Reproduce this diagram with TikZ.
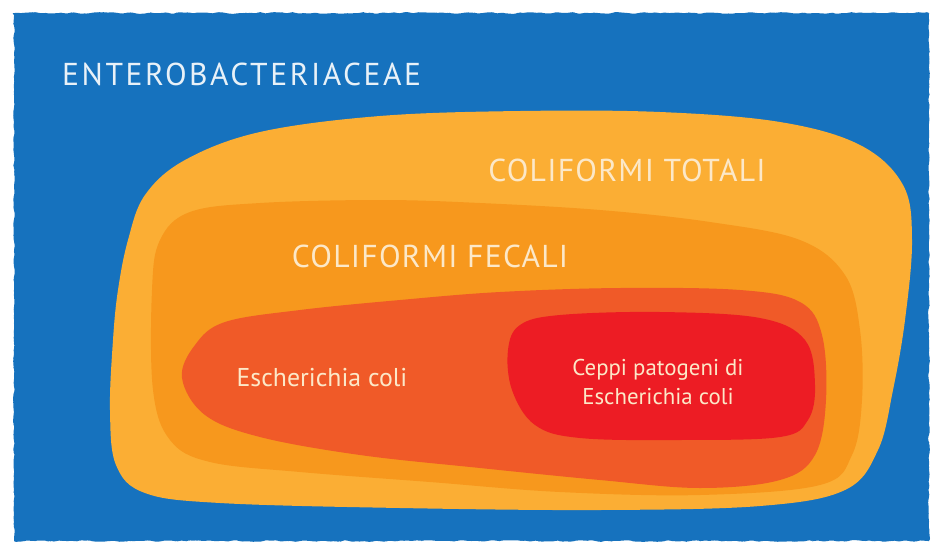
\documentclass[tikz,border=0pt]{standalone}
\usepackage{fontspec}
\setmainfont{PT Sans}
\usepackage{xcolor}
\usepackage{tikz}
\usetikzlibrary{decorations.pathmorphing}
\definecolor{cEntero}{HTML}{1672BE}
\definecolor{cTot}{HTML}{FBAE34}
\definecolor{cFec}{HTML}{F7981D}
\definecolor{cEcoli}{HTML}{F05A28}
\definecolor{cPat}{HTML}{ED1C24}
\definecolor{cTxt}{HTML}{FCE8C8}
\definecolor{cTxtB}{HTML}{E8F1F8}
\tikzset{
  grpblob/.style={line width=0pt,draw=none},
  grplab/.style={font=\fontsize{27}{30}\selectfont\addfontfeatures{LetterSpace=4},
      text=cTxt,inner sep=0pt},
  sublab/.style={font=\fontsize{22}{26}\selectfont,text=cTxt,inner sep=0pt,align=center},
}
\begin{document}
\begin{tikzpicture}[x=0.03cm,y=-0.03cm]
  \useasboundingbox (0,0) rectangle (947,554);
  \fill[white] (0,0) rectangle (947,554);

  % outer box
  \fill[cEntero,decorate,decoration={random steps,segment length=3pt,amplitude=0.8pt},
    rounded corners=2pt] (14,13) rectangle (929,541);

  % nested groups
  \fill[cTot,grpblob] plot[smooth cycle,tension=0.6] coordinates {
    (128,240) (145,195) (185,160) (260,132) (380,116) (520,111) (660,112)
    (780,122) (860,145) (903,185) (912,240) (905,320) (893,390) (878,450)
    (845,490) (760,506) (600,510) (400,508) (220,503) (145,493) (116,465)
    (110,410) (113,340) (118,290)};
  \fill[cFec,grpblob] plot[smooth cycle,tension=0.6] coordinates {
    (152,290) (160,240) (190,212) (260,203) (380,200) (480,203) (600,210)
    (710,222) (800,240) (845,275) (860,330) (862,400) (852,455) (820,485)
    (700,495) (560,492) (430,482) (300,472) (210,462) (170,440) (153,390)};
  \fill[cEcoli,grpblob] plot[smooth cycle,tension=0.6] coordinates {
    (182,378) (195,345) (225,322) (300,310) (400,300) (500,292) (620,288)
    (740,290) (800,302) (822,335) (826,400) (815,455) (780,480) (700,488)
    (600,480) (480,468) (360,455) (260,437) (205,415)};
  \fill[cPat,grpblob] plot[smooth cycle,tension=0.6] coordinates {
    (508,350) (520,325) (560,315) (660,312) (760,318) (805,340) (815,385)
    (808,420) (780,437) (680,440) (580,438) (535,425) (512,390)};

  % labels
  \node[grplab,text=cTxtB,anchor=west,font=\fontsize{27}{30}\selectfont\addfontfeatures{LetterSpace=8}]
    (entero) at (62,74) {ENTEROBACTERIACEAE};
  \node[grplab] (totali) at (627,170) {COLIFORMI TOTALI};
  \node[grplab] (fecali) at (430,256) {COLIFORMI FECALI};
  \node[sublab] (ecoli) at (322,378) {Escherichia coli};
  \node[sublab,font=\fontsize{19.5}{25.5}\selectfont] (patog) at (658,382)
    {Ceppi patogeni di\\Escherichia coli};
\end{tikzpicture}
\end{document}
